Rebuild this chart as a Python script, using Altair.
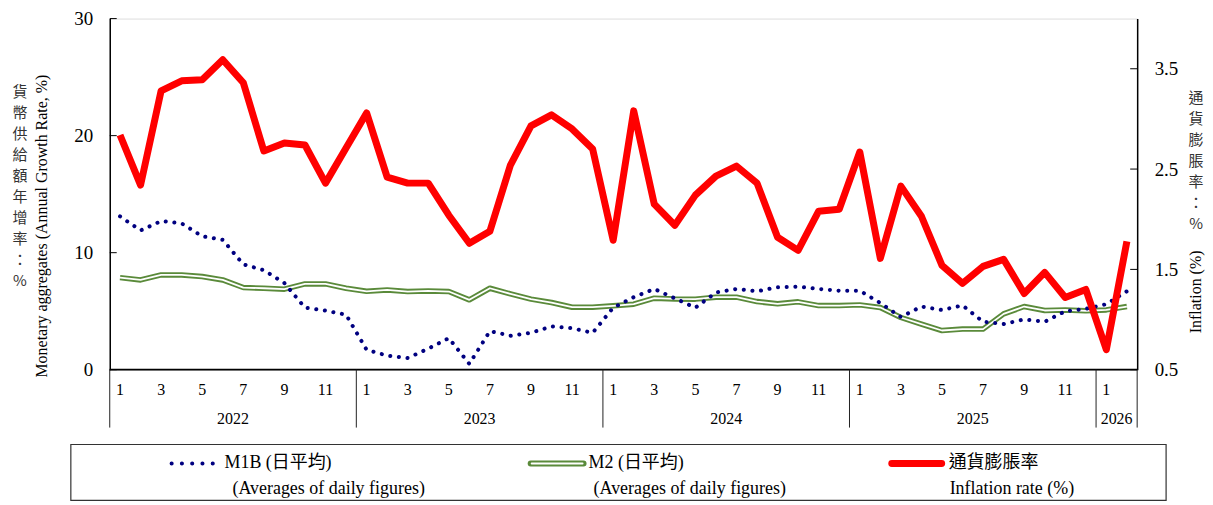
import altair as alt
import pandas as pd

# ---------------- data ----------------
years = ["2022", "2023", "2024", "2025", "2026"]
months_per_year = [12, 12, 12, 12, 2]

m1b = [13.1, 11.9, 12.7, 12.5, 11.4, 11.1, 9.0, 8.5, 7.4, 5.3, 5.05, 4.7,
       1.7, 1.2, 1.0, 1.8, 2.7, 0.5, 3.3, 2.9, 3.15, 3.7, 3.55, 3.15,
       5.3, 6.2, 6.9, 6.1, 5.3, 6.6, 6.9, 6.7, 7.05, 7.1, 6.9, 6.75,
       6.75, 5.7, 4.5, 5.4, 5.1, 5.5, 4.1, 3.9, 4.3, 4.1, 5.0, 5.2, 5.6, 6.7]

m2 = [7.87, 7.67, 8.1, 8.1, 7.96, 7.67, 7.02, 6.96, 6.88, 7.33, 7.33, 6.96,
      6.7, 6.82, 6.68, 6.73, 6.68, 5.97, 6.96, 6.48, 6.03, 5.74, 5.34, 5.34,
      5.46, 5.6, 6.11, 6.05, 6.03, 6.2, 6.2, 5.82, 5.63, 5.8, 5.48, 5.48,
      5.54, 5.31, 4.46, 3.89, 3.35, 3.47, 3.47, 4.77, 5.4, 5.06, 5.11, 5.03, 5.11, 5.4]

infl = [2.84, 2.34, 3.28, 3.38, 3.39, 3.59, 3.36, 2.68, 2.76, 2.74, 2.36, 2.71,
        3.06, 2.42, 2.36, 2.36, 2.04, 1.76, 1.88, 2.54, 2.93, 3.04, 2.90, 2.70,
        1.79, 3.08, 2.15, 1.94, 2.24, 2.43, 2.53, 2.36, 1.82, 1.69, 2.08, 2.10,
        2.67, 1.61, 2.33, 2.03, 1.54, 1.36, 1.53, 1.60, 1.26, 1.47, 1.22, 1.30,
        0.70, 1.78]

left_ticks = [0, 10, 20, 30]
right_ticks = [0.5, 1.5, 2.5, 3.5]

left_title_en = "Monetary aggregates (Annual Growth Rate, %)"
left_title_zh = "貨幣供給額年增率：%"
right_title_en = "Inflation (%)"
right_title_zh = "通貨膨脹率：%"

legend_main = ["M1B (日平均)", "M2 (日平均)", "通貨膨脹率"]
legend_sub = ["(Averages of daily figures)", "(Averages of daily figures)", "Inflation rate (%)"]

# ---------------- tables ----------------
rows = []
k = 0
for yr, n in zip(years, months_per_year):
    for mth in range(1, n + 1):
        rows.append({"i": k, "year": yr, "month": mth})
        k += 1
df = pd.DataFrame(rows)
df["m1b"] = m1b
df["m2"] = m2
df["infl"] = infl

mlab = df[df["month"] % 2 == 1].copy()
mlab["label"] = mlab["month"].astype(str)

bounds = []
ylab = []
start = 0
for yr, n in zip(years, months_per_year):
    bounds.append(start - 0.5)
    ylab.append({"c": start + (n - 1) / 2, "year": yr})
    start += n
bounds.append(start - 0.5)
bdf = pd.DataFrame({"b": bounds})
ydf = pd.DataFrame(ylab)

one = pd.DataFrame({"a": [0]})

W, H = 1030, 352
SERIF = 'Liberation Serif, "Noto Sans CJK TC"'
CJK = '"Noto Sans CJK TC", Liberation Serif'
NAVY = "#000080"
GREEN = "#5A8A3A"
RED = "#FF0000"

xsc = alt.Scale(domain=[-0.5, 49.5], nice=False, zero=False)
X = alt.X("i:Q", scale=xsc, axis=None)

lsc = alt.Scale(domain=[0, 30], nice=False, zero=False)
rsc = alt.Scale(domain=[0.5, 4.0], nice=False, zero=False)

laxis = alt.Axis(values=left_ticks, ticks=False, grid=False, domainColor="black",
                 domainWidth=1.5, labelFont=SERIF, labelFontSize=19, labelColor="black",
                 labelPadding=17, title=None)
raxis = alt.Axis(orient="right", values=right_ticks, ticks=False, grid=False,
                 domainColor="black", domainWidth=1.5, labelFont=SERIF, labelFontSize=19,
                 labelColor="black", labelPadding=17, title=None, format=".1f")

base = alt.Chart(df)

green = base.mark_line(color=GREEN, strokeWidth=5.5, strokeJoin="round").encode(
    x=X, y=alt.Y("m2:Q", scale=lsc, axis=laxis))
white = base.mark_line(color="white", strokeWidth=1.8, strokeJoin="round").encode(
    x=X, y=alt.Y("m2:Q", scale=lsc, axis=laxis))
blue = base.mark_line(color=NAVY, strokeWidth=4, strokeDash=[0.1, 8.6], strokeCap="round").encode(
    x=X, y=alt.Y("m1b:Q", scale=lsc, axis=laxis))
lt = alt.Chart(pd.DataFrame({"v": left_ticks})).mark_rule(color="black", strokeWidth=1).encode(
    y=alt.Y("v:Q", scale=lsc, axis=laxis), x=alt.value(0), x2=alt.value(7))

bottom = alt.Chart(one).mark_rule(color="black", strokeWidth=1.8).encode(
    x=alt.value(0), x2=alt.value(W), y=alt.value(H))
seps = alt.Chart(bdf).mark_rule(color="#222222", strokeWidth=1).encode(
    x=alt.X("b:Q", scale=xsc, axis=None), y=alt.value(H), y2=alt.value(410))
mtext = alt.Chart(mlab).mark_text(font=SERIF, fontSize=16, color="black", baseline="middle").encode(
    x=X, y=alt.value(372), text="label:N")
ytext = alt.Chart(ydf).mark_text(font=SERIF, fontSize=16, color="black", baseline="middle").encode(
    x=alt.X("c:Q", scale=xsc, axis=None), y=alt.value(401), text="year:N")

# axis titles
lt_en = alt.Chart(one).mark_text(font=SERIF, fontSize=16, angle=270, color="black", baseline="middle").encode(
    x=alt.value(-68), y=alt.value(208), text=alt.value(left_title_en))
lt_zh = alt.Chart(one).mark_text(font=CJK, fontSize=15, color="#333333", baseline="middle",
                                 lineBreak="\n", lineHeight=21).encode(
    x=alt.value(-90), y=alt.value(74), text=alt.value("\n".join(left_title_zh)))
rt_zh = alt.Chart(one).mark_text(font=CJK, fontSize=15, color="#333333", baseline="middle",
                                 lineBreak="\n", lineHeight=21).encode(
    x=alt.value(1089), y=alt.value(80), text=alt.value("\n".join(right_title_zh)))
rt_en = alt.Chart(one).mark_text(font=SERIF, fontSize=16, angle=270, color="black", baseline="middle").encode(
    x=alt.value(1089), y=alt.value(274), text=alt.value(right_title_en))

# legend
lbox = alt.Chart(one).mark_rect(fill="transparent", stroke="#333333", strokeWidth=1.2).encode(
    x=alt.value(-39), x2=alt.value(1059), y=alt.value(427), y2=alt.value(483))
lg_b = alt.Chart(one).mark_rule(color=NAVY, strokeWidth=4, strokeDash=[0.1, 10.2], strokeCap="round").encode(
    x=alt.value(62), x2=alt.value(113), y=alt.value(446))
lg_g1 = alt.Chart(one).mark_rule(color=GREEN, strokeWidth=6, strokeCap="round").encode(
    x=alt.value(422), x2=alt.value(475), y=alt.value(446))
lg_g2 = alt.Chart(one).mark_rule(color="white", strokeWidth=2, strokeCap="round").encode(
    x=alt.value(423), x2=alt.value(474), y=alt.value(446))
lg_r = alt.Chart(one).mark_rule(color=RED, strokeWidth=7, strokeCap="round").encode(
    x=alt.value(784), x2=alt.value(834), y=alt.value(446))

leg_df = pd.DataFrame({"main": legend_main, "sub": legend_sub,
                       "mx": [115, 480, 841], "sx": [123, 485, 842]})
lg_t1 = alt.Chart(leg_df).mark_text(font=SERIF, fontSize=18, color="black", align="left", baseline="middle").encode(
    x=alt.X("mx:Q", scale=None, axis=None), y=alt.value(446), text="main:N")
lg_t2 = alt.Chart(leg_df).mark_text(font=SERIF, fontSize=18, color="black", align="left", baseline="middle").encode(
    x=alt.X("sx:Q", scale=None, axis=None), y=alt.value(472), text="sub:N")

left_group = alt.layer(green, white, blue, lt, bottom, seps, mtext, ytext,
                       lt_en, lt_zh, rt_zh, rt_en, lbox, lg_b, lg_g1, lg_g2, lg_r, lg_t1, lg_t2)

red = alt.Chart(df).mark_line(color=RED, strokeWidth=7, strokeJoin="round").encode(
    x=X, y=alt.Y("infl:Q", scale=rsc, axis=raxis))
rtk = alt.Chart(pd.DataFrame({"v": right_ticks})).mark_rule(color="black", strokeWidth=1).encode(
    y=alt.Y("v:Q", scale=rsc, axis=raxis), x=alt.value(W - 7), x2=alt.value(W))
right_group = alt.layer(rtk, red)

chart = alt.layer(left_group, right_group).resolve_scale(y="independent").properties(
    width=W, height=H,
    autosize=alt.AutoSizeParams(type="none"),
    padding={"left": 102, "top": 10, "right": 68, "bottom": 132},
).configure_view(stroke="#888888", strokeWidth=1).configure(background="white")

chart.save("out.html", embed_options={"renderer": "svg", "actions": False})
